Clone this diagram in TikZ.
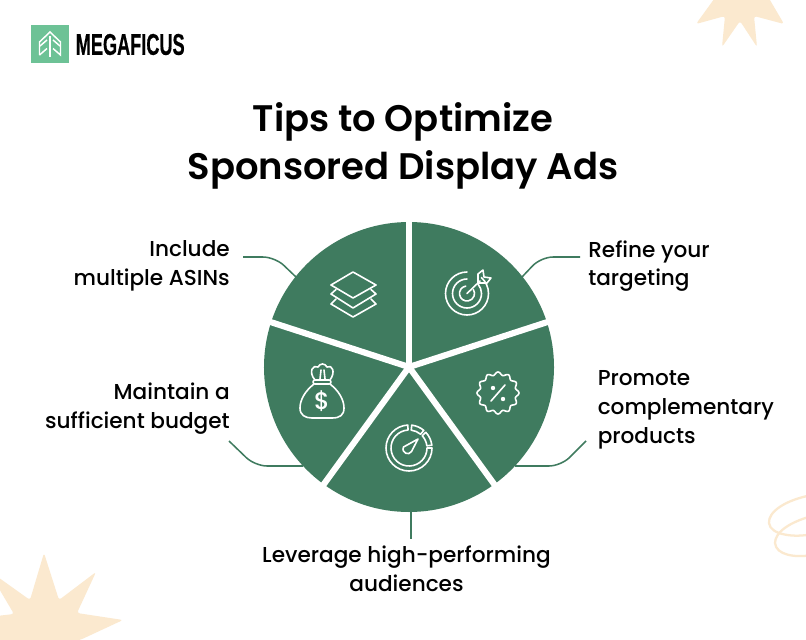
\documentclass[tikz,border=0pt]{standalone}
\usepackage{fontspec}
\setmainfont{Poppins}[UprightFont=* Medium,BoldFont=* SemiBold]
\newfontfamily\logofont{Liberation Sans}[FakeBold=0.6]
\definecolor{pie}{HTML}{3F7B5F}
\definecolor{logog}{HTML}{6DC296}
\definecolor{cream}{HTML}{FBE9CF}
\tikzset{
  x=0.75pt,y=-0.75pt,
  wedge/.style={fill=pie,draw=none},
  spoke/.style={draw=white,line width=4.6pt,line cap=butt},
  conn/.style={draw=pie,line width=1.15pt,rounded corners=9pt},
  lab/.style={font=\fontsize{16.2pt}{21.6pt}\selectfont,text=black,inner sep=0pt},
  ttl/.style={font=\bfseries\fontsize{27.7pt}{36pt}\selectfont,text=black,align=center,inner sep=0pt},
  ico/.style={draw=white,line width=1.2pt,line join=round,line cap=round},
  deco/.style={fill=cream,draw=none,rounded corners=2pt},
  swirl/.style={draw=cream,line width=1.7pt}
}
\newcommand{\gaugeseg}[2]{\draw ([shift={(#1:23)}]g) arc[start angle=#1,end angle=#2,radius=23] -- ([shift={(#2:18)}]g) arc[start angle=#2,end angle=#1,radius=18] -- cycle;}
\begin{document}
\begin{tikzpicture}
\path[use as bounding box,fill=white] (0,0) rectangle (806,639);
\begin{scope}
\clip (0,0) rectangle (806,639);
% decorations
\fill[deco] (-12,570) -- (30,600) -- (44,553) -- (59,600) -- (96,572) -- (77,613) -- (123,620) -- (80,640) -- (0,645) -- (-12,640) -- (-12,617) -- (14,614) -- cycle;
\fill[deco] (717,-5) -- (696,24) -- (725,16) -- (722,47) -- (740,21) -- (757,47) -- (754,16) -- (784,24) -- (767,-5) -- cycle;
\draw[swirl] (812,495) .. controls (785,500) and (768,512) .. (769,523) .. controls (770,535) and (795,538) .. (812,534);
\draw[swirl] (812,516) .. controls (790,522) and (775,532) .. (775,543) .. controls (776,555) and (795,558) .. (812,555);
\end{scope}
% logo
\fill[logog] (31,25) rectangle (69,63);
\draw[white,line width=1.1pt] (39.5,55) -- (39.5,42) -- (50,32) -- (60.5,42) -- (60.5,55) -- (53,48.5);
\draw[white,line width=1.1pt] (39.5,55) -- (47,48.5);
\draw[white,line width=1.1pt] (40,46) -- (47,40) (60,46) -- (53,40);
\draw[white,line width=1.5pt] (50,36) -- (50,57);
\node[anchor=west,inner sep=0pt,text=black] (logotext) at (75.5,44.5) {\scalebox{0.605}[1]{\logofont\bfseries\fontsize{22.5pt}{24pt}\selectfont MEGAFICUS}};
% title
\node[ttl] (title) at (403,145.5) {Tips to Optimize\\Sponsored Display Ads};
% connector anchors on the pie
\coordinate (c) at (409,367);
\coordinate (p1) at (522,277);
\coordinate (p2) at (515,466);
\coordinate (p3) at (411,512);
\coordinate (p4) at (303,466);
\coordinate (p5) at (296,277);
\coordinate (t1) at (580,257);
\coordinate (t2) at (586,441);
\coordinate (t3) at (411,539);
\coordinate (t4) at (229,441);
\coordinate (t5) at (243,257);
\draw[conn] (p1) -- (541,257) -- (t1);
\draw[conn] (p2) -- (561,466) -- (t2);
\draw[conn] (p3) -- (t3);
\draw[conn] (p4) -- (255,466) -- (t4);
\draw[conn] (p5) -- (275,257) -- (t5);
% pie (angles run clockwise, y points down)
\foreach \a in {-90,-18,54,126,198}{
  \fill[wedge] (c) -- ++(\a:145) arc[start angle=\a,delta angle=72,radius=145] -- cycle;
}
\foreach \a in {-90,-18,54,126,198}{
  \draw[spoke] (c) -- ++(\a:150);
}
% labels
\node[lab,anchor=west,align=left] (l1) at (588,266) {Refine your\\targeting};
\node[lab,anchor=west,align=left] (l2) at (597.5,410) {Promote\\complementary\\products};
\node[lab,align=center] (l3) at (406.5,568.5) {Leverage high-performing\\audiences};
\node[lab,anchor=east,align=right] (l4) at (230,409) {Maintain a\\sufficient budget};
\node[lab,anchor=east,align=right] (l5) at (230,266) {Include\\multiple ASINs};
% layers icon
\begin{scope}[ico]
\draw (353,272) -- (376,285) -- (353,298) -- (331,285) -- cycle;
\draw (336,289.5) -- (331,294) -- (353,308) -- (376,294) -- (371,289.5);
\draw (336,299) -- (331,304) -- (353,317) -- (376,304) -- (371,299);
\end{scope}
% target icon
\begin{scope}[ico]
\coordinate (tg) at (467,293.5);
\draw ([shift={(-90:21.5)}]tg) arc[start angle=-90,delta angle=-318,radius=21.5];
\draw ([shift={(-90:14.5)}]tg) arc[start angle=-90,delta angle=-310,radius=14.5];
\draw ([shift={(-100:7.5)}]tg) arc[start angle=-100,delta angle=-290,radius=7.5];
\draw (tg) -- (480,281);
\draw (478,283) -- (478,274) -- (483,270) -- (484,277) -- (491,278) -- (487,283) -- cycle;
\end{scope}
% badge icon
\begin{scope}[ico]
\draw[smooth,samples=121,domain=0:360,variable=\t,shift={(498,393)}] plot ({(19.5+1.5*cos(12*\t))*cos(\t)},{(19.5+1.5*cos(12*\t))*sin(\t)}) -- cycle;
\draw (491,401) -- (505,385);
\fill[white] (493,388) circle (2.2) (503,399) circle (2.2);
\end{scope}
% gauge icon
\begin{scope}[ico]
\coordinate (g) at (409,448);
\gaugeseg{0}{267}
\gaugeseg{-83}{-50}
\gaugeseg{-43}{-7}
\draw (418,439) -- (403.5,447) .. controls (401,453) and (409,456) .. (411.5,451.5) -- cycle;
\end{scope}
% money bag icon
\begin{scope}[ico]
\draw (315,380) .. controls (308,372) and (313,364) .. (318,367) .. controls (320,363) and (325,363) .. (327,367) .. controls (332,364) and (336,372) .. (330,380);
\draw (321,370) -- (320,379) (324,370) -- (325,379);
\draw[rounded corners=1.5pt] (313,380) rectangle (331,384);
\draw (314,384) .. controls (305,391) and (300,400) .. (300,408) .. controls (300,415) and (305,418) .. (312,418) -- (332,418) .. controls (340,418) and (344,415) .. (344,408) .. controls (344,400) and (339,391) .. (330,384);
\end{scope}
\node[text=white,inner sep=0pt,font=\fontsize{18pt}{20pt}\selectfont] (dollar) at (322,401) {\$};
\end{tikzpicture}
\end{document}
